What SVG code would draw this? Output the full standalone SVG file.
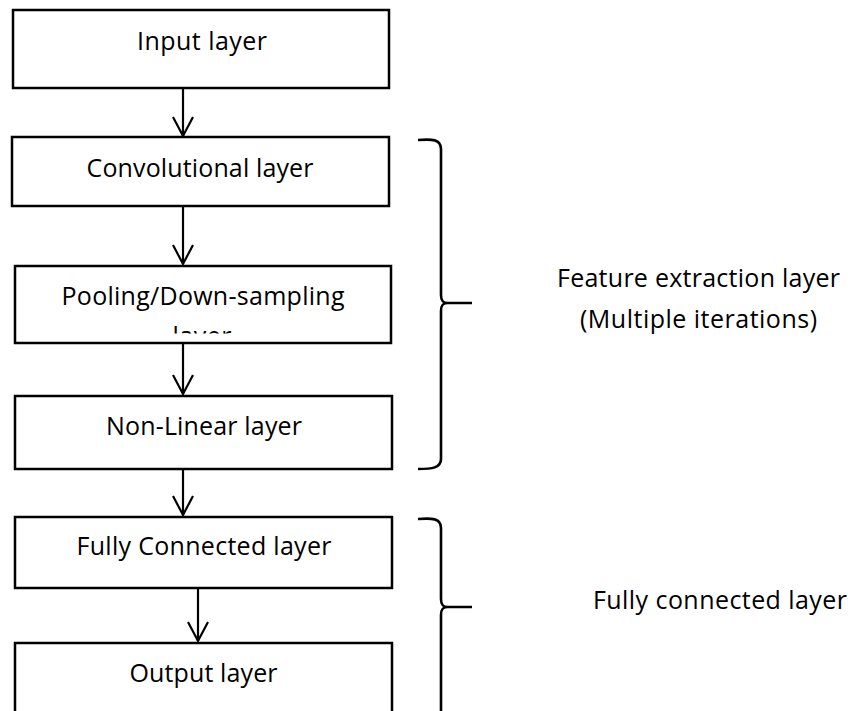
<svg xmlns="http://www.w3.org/2000/svg" width="848" height="711" viewBox="0 0 848 711">
  <defs>
    <style>
      .box { fill: #ffffff; stroke: #000000; stroke-width: 2.5; }
      .lbl { font-family: "Open Sans", "Liberation Sans", sans-serif; font-size: 25px; fill: #000000; text-anchor: middle; }
      .conn { fill: none; stroke: #000000; stroke-width: 2.2; }
      .brace { fill: none; stroke: #000000; stroke-width: 2.6; stroke-linecap: butt; stroke-linejoin: round; }
    </style>
    <marker id="vhead" viewBox="0 0 24 24" markerWidth="24" markerHeight="24" refX="21" refY="12" orient="auto" markerUnits="userSpaceOnUse">
      <path d="M2,2 L21,12 L2,22" fill="none" stroke="#000000" stroke-width="2.2"/>
    </marker>
    <clipPath id="poolClip">
      <rect x="15" y="266" width="376" height="67.5"/>
    </clipPath>
  </defs>
  <rect x="0" y="0" width="848" height="711" fill="#ffffff"/>

  <g id="connectors">
    <line class="conn" x1="183" y1="88" x2="183" y2="136" marker-end="url(#vhead)"/>
    <line class="conn" x1="183" y1="206" x2="183" y2="264" marker-end="url(#vhead)"/>
    <line class="conn" x1="183" y1="343" x2="183" y2="394" marker-end="url(#vhead)"/>
    <line class="conn" x1="183" y1="469" x2="183" y2="515" marker-end="url(#vhead)"/>
    <line class="conn" x1="198" y1="588" x2="198" y2="641" marker-end="url(#vhead)"/>
  </g>

  <g id="input">
    <rect class="box" x="13" y="10" width="376" height="78"/>
    <text class="lbl" x="202" y="50" textLength="130">Input layer</text>
  </g>

  <g id="conv">
    <rect class="box" x="12" y="137" width="377" height="69"/>
    <text class="lbl" x="200" y="177" textLength="227">Convolutional layer</text>
  </g>

  <g id="pool">
    <rect class="box" x="15" y="266" width="376" height="77"/>
    <text class="lbl" x="203" y="305" textLength="283">Pooling/Down-sampling</text>
    <text class="lbl" x="202" y="345" clip-path="url(#poolClip)" textLength="59">layer</text>
  </g>

  <g id="nonlinear">
    <rect class="box" x="15" y="396" width="377" height="73"/>
    <text class="lbl" x="204" y="435" textLength="196">Non-Linear layer</text>
  </g>

  <g id="fc">
    <rect class="box" x="15" y="517" width="377" height="71"/>
    <text class="lbl" x="204" y="555" textLength="255">Fully Connected layer</text>
  </g>

  <g id="output">
    <rect class="box" x="15" y="643" width="377" height="90"/>
    <text class="lbl" x="203.5" y="682" textLength="148">Output layer</text>
  </g>

  <g id="feature-brace">
    <path class="brace" d="M418,140 C432,139 441,139 441,149 L441,295 C441,301 443,303 448,303 L472,303 M448,303 C443,303 441,305 441,311 L441,459 C441,468 432,469 418,469"/>
    <text class="lbl" x="698.5" y="287" textLength="283">Feature extraction layer</text>
    <text class="lbl" x="698.5" y="328" textLength="237">(Multiple iterations)</text>
  </g>

  <g id="fc-brace">
    <path class="brace" d="M418,519 C432,518 441,518 441,528 L441,599 C441,605 443,607 448,607 L472,607 M448,607 C443,607 441,609 441,615 L441,725"/>
    <text class="lbl" x="720" y="609" textLength="254">Fully connected layer</text>
  </g>
</svg>
